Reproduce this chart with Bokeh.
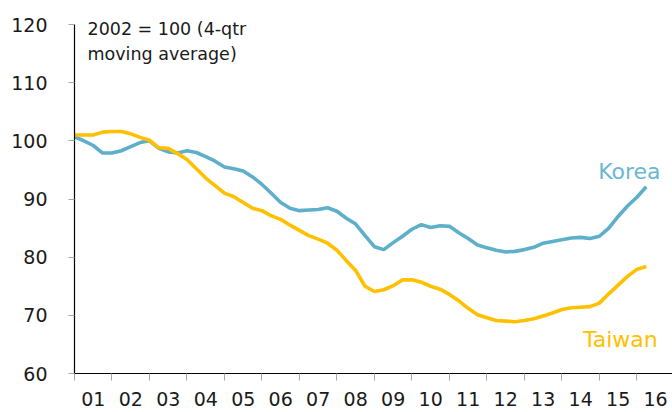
from bokeh.plotting import figure
from bokeh.models import FixedTicker, Label, ColumnDataSource
from bokeh.embed import file_html
from bokeh.resources import INLINE

# ---- data (quarterly, 4-qtr moving average, 2002 = 100) ----
start_year = 2001
korea = [100.7, 100.0, 99.2, 97.9, 97.9, 98.3, 99.0, 99.7,
         100.0, 98.7, 98.1, 97.9, 98.3, 98.0, 97.3, 96.5,
         95.5, 95.2, 94.8, 93.8, 92.5, 91.0, 89.4, 88.4,
         88.0, 88.1, 88.2, 88.5, 87.9, 86.7, 85.7, 83.7,
         81.8, 81.3, 82.5, 83.6, 84.8, 85.6, 85.1, 85.4,
         85.3, 84.2, 83.2, 82.1, 81.6, 81.2, 80.9, 81.0,
         81.3, 81.7, 82.4, 82.7, 83.0, 83.3, 83.4, 83.2,
         83.6, 85.0, 87.0, 88.8, 90.3, 92.1]
taiwan = [101.0, 101.0, 101.0, 101.5, 101.6, 101.6, 101.2, 100.6,
          100.1, 98.8, 98.7, 97.8, 96.8, 95.2, 93.6, 92.3,
          91.0, 90.4, 89.4, 88.4, 88.0, 87.1, 86.5, 85.5,
          84.6, 83.7, 83.1, 82.4, 81.2, 79.4, 77.7, 75.0,
          74.1, 74.4, 75.1, 76.1, 76.1, 75.7, 75.0, 74.5,
          73.6, 72.5, 71.2, 70.1, 69.6, 69.1, 69.0, 68.9,
          69.1, 69.4, 69.9, 70.4, 71.0, 71.3, 71.4, 71.5,
          72.1, 73.7, 75.2, 76.7, 77.9, 78.4]
year_labels = ["01", "02", "03", "04", "05", "06", "07", "08",
               "09", "10", "11", "12", "13", "14", "15", "16"]
y_ticks = [60, 70, 80, 90, 100, 110, 120]

KOREA_COLOR = "#5DAFCA"
TAIWAN_COLOR = "#FFC000"
FONT = "DejaVu Sans"

x = [start_year + i / 4 for i in range(len(korea))]
src = ColumnDataSource(dict(x=x, korea=korea, taiwan=taiwan))

p = figure(width=672, height=412, x_range=(2001, 2016.95), y_range=(60, 123.27),
           output_backend="svg", toolbar_location=None,
           min_border_left=74, min_border_right=0, min_border_top=5,
           min_border_bottom=39)
p.outline_line_color = None
p.xgrid.visible = False
p.ygrid.visible = False
p.background_fill_color = "white"
p.border_fill_color = "white"

p.line("x", "korea", source=src, line_color=KOREA_COLOR, line_width=3.6)
p.line("x", "taiwan", source=src, line_color=TAIWAN_COLOR, line_width=3.6)

# x axis: labels centred on years, ticks at year boundaries
mid = [start_year + k + 0.5 for k in range(len(year_labels))]
bounds = [start_year + k for k in range(len(year_labels) + 1)]
xa = p.xaxis[0]
xa.ticker = FixedTicker(ticks=mid, minor_ticks=bounds)
xa.major_label_overrides = {m: lab for m, lab in zip(mid, year_labels)}
xa.major_tick_line_color = None
xa.major_tick_out = 7
xa.major_tick_in = 0
xa.minor_tick_line_color = "#A6A6A6"
xa.minor_tick_out = 7
xa.minor_tick_in = 0
xa.axis_line_color = "black"
xa.axis_line_width = 1.2
xa.major_label_text_font = FONT
xa.major_label_text_font_size = "19px"
xa.major_label_text_color = "#1a1a1a"
xa.major_label_standoff = 11

ya = p.yaxis[0]
ya.ticker = FixedTicker(ticks=y_ticks, minor_ticks=[])
ya.bounds = (y_ticks[0], y_ticks[-1])
ya.major_tick_line_color = "#A6A6A6"
ya.major_tick_out = 6
ya.major_tick_in = 0
ya.minor_tick_line_color = None
ya.axis_line_color = "black"
ya.axis_line_width = 1.2
ya.major_label_text_font = FONT
ya.major_label_text_font_size = "19px"
ya.major_label_text_color = "#1a1a1a"
ya.major_label_standoff = 21

for txt, yv in [("2002 = 100 (4-qtr", 119.24), ("moving average)", 114.95)]:
    p.add_layout(Label(x=2001.347, y=yv, text=txt, text_font=FONT,
                       text_font_size="17.5px", text_color="#1a1a1a",
                       text_baseline="alphabetic", text_align="left"))

p.add_layout(Label(x=2015.80, y=94.67, text="Korea", text_font=FONT,
                   text_font_size="22px", text_color="#6BB7D2",
                   text_baseline="alphabetic", text_align="center"))
p.add_layout(Label(x=2015.56, y=65.81, text="Taiwan", text_font=FONT,
                   text_font_size="22px", text_color=TAIWAN_COLOR,
                   text_baseline="alphabetic", text_align="center"))

open("out.html", "w").write(file_html(p, INLINE))
